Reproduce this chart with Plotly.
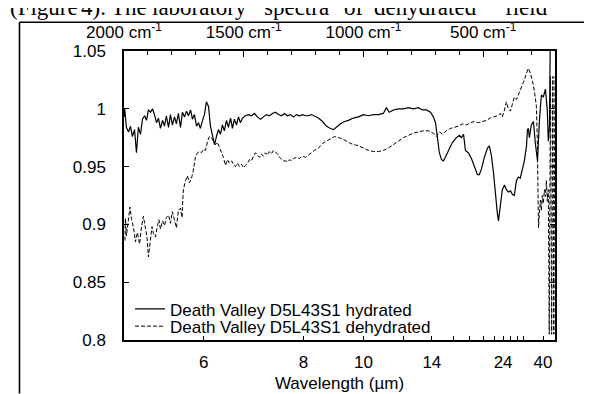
import plotly.graph_objects as go

# ---------------- data ----------------
# x values are wavenumbers in cm^-1 (the axis is linear in wavenumber,
# labelled in wavelength on the bottom)
hyd_wn = [2000, 1997, 1990, 1981, 1973, 1965, 1956, 1948, 1940, 1931, 1923, 1914, 1906, 1898,
          1889, 1881, 1873, 1864, 1856, 1848, 1839, 1831, 1823, 1814, 1806, 1798, 1789, 1781,
          1773, 1764, 1756, 1747, 1739, 1731, 1722, 1714, 1706, 1697, 1689, 1681, 1672, 1664,
          1656, 1647, 1639, 1631, 1622, 1614, 1606, 1597, 1589, 1581, 1572, 1564, 1555, 1547,
          1539, 1530, 1522, 1514, 1505, 1493, 1480, 1468, 1455, 1443, 1430, 1418, 1405, 1393,
          1380, 1367, 1355, 1342, 1330, 1317, 1305, 1292, 1280, 1267, 1255, 1242, 1230, 1217,
          1205, 1188, 1171, 1155, 1138, 1125, 1113, 1096, 1079, 1063, 1042, 1021, 1000, 979,
          958, 937, 917, 904, 892, 875, 854, 833, 812, 791, 770, 754, 737, 720, 708, 699, 691,
          683, 674, 666, 658, 645, 628, 612, 599, 591, 582, 574, 562, 549, 537, 524, 516, 507,
          495, 482, 474, 466, 457, 449, 441, 436, 428, 420, 411, 403, 395, 386, 378, 370, 361,
          353, 345, 336, 328, 319, 315, 311, 307, 299, 290, 282, 273, 265, 257, 249, 240, 232,
          228, 223, 219]
hyd_val = [0.993, 1.000, 0.984, 0.980, 0.985, 0.976, 0.982, 0.962, 0.984, 0.978, 0.991, 0.994,
           0.990, 0.999, 0.997, 1.000, 0.995, 0.988, 0.992, 0.983, 0.990, 0.985, 0.994, 0.984,
           0.995, 0.986, 0.993, 0.987, 0.996, 0.984, 0.997, 0.993, 0.998, 0.994, 0.999, 0.991,
           0.995, 0.985, 0.988, 0.983, 0.990, 0.995, 1.006, 1.002, 0.985, 0.978, 0.969, 0.976,
           0.982, 0.978, 0.986, 0.981, 0.990, 0.984, 0.992, 0.983, 0.991, 0.986, 0.993, 0.988,
           0.992, 0.994, 0.995, 0.994, 0.996, 0.993, 0.991, 0.993, 0.995, 0.994, 0.996, 0.997,
           0.995, 0.994, 0.996, 0.994, 0.995, 0.993, 0.995, 0.994, 0.995, 0.994, 0.994, 0.995,
           0.994, 0.992, 0.989, 0.985, 0.983, 0.982, 0.984, 0.987, 0.989, 0.990, 0.992, 0.993,
           0.995, 0.994, 0.995, 0.995, 0.996, 1.001, 0.997, 0.999, 1.000, 1.000, 1.001, 1.000,
           1.001, 0.999, 0.999, 0.997, 0.993, 0.988, 0.975, 0.962, 0.956, 0.955, 0.958, 0.964,
           0.971, 0.975, 0.977, 0.975, 0.978, 0.964, 0.962, 0.957, 0.950, 0.943, 0.943, 0.948,
           0.958, 0.966, 0.968, 0.960, 0.945, 0.925, 0.910, 0.903, 0.915, 0.930, 0.934, 0.930,
           0.928, 0.929, 0.926, 0.925, 0.938, 0.941, 0.940, 0.948, 0.955, 0.968, 0.982, 0.983,
           0.975, 0.986, 0.989, 0.970, 0.955, 0.990, 1.012, 1.010, 1.017, 0.998, 0.972, 0.985,
           1.080]

dehyd_wn = [1996, 1994, 1990, 1981, 1975, 1969, 1960, 1952, 1944, 1935, 1927, 1919, 1910, 1904,
            1898, 1889, 1883, 1877, 1869, 1860, 1854, 1848, 1839, 1831, 1823, 1814, 1806, 1798,
            1789, 1781, 1773, 1764, 1758, 1752, 1743, 1735, 1727, 1718, 1710, 1702, 1693, 1685,
            1677, 1668, 1660, 1651, 1643, 1635, 1626, 1618, 1610, 1601, 1593, 1585, 1576, 1568,
            1560, 1551, 1543, 1535, 1526, 1518, 1509, 1501, 1493, 1484, 1476, 1468, 1459, 1451,
            1443, 1434, 1426, 1418, 1409, 1401, 1393, 1384, 1376, 1367, 1359, 1351, 1342, 1334,
            1326, 1317, 1309, 1301, 1292, 1280, 1267, 1255, 1242, 1230, 1217, 1205, 1188, 1171,
            1155, 1138, 1121, 1104, 1088, 1071, 1054, 1038, 1021, 1000, 979, 958, 937, 917, 896,
            875, 854, 833, 812, 791, 770, 750, 729, 708, 695, 683, 670, 654, 637, 620, 603, 587,
            570, 553, 537, 520, 503, 486, 470, 453, 441, 428, 420, 411, 403, 395, 386, 378, 370,
            361, 353, 345, 336, 328, 319, 311, 303, 294, 286, 278, 274, 269, 265, 261, 257, 253,
            249, 244, 240, 236, 232, 228, 224, 219, 214, 209, 205, 200]
dehyd_val = [0.886, 0.905, 0.890, 0.903, 0.915, 0.905, 0.897, 0.885, 0.893, 0.883, 0.898, 0.907,
             0.895, 0.889, 0.872, 0.887, 0.898, 0.892, 0.889, 0.899, 0.904, 0.896, 0.903, 0.899,
             0.906, 0.908, 0.901, 0.911, 0.904, 0.897, 0.912, 0.914, 0.906, 0.930, 0.938, 0.942,
             0.936, 0.940, 0.947, 0.958, 0.962, 0.963, 0.962, 0.965, 0.964, 0.972, 0.976, 0.975,
             0.972, 0.969, 0.971, 0.966, 0.963, 0.958, 0.951, 0.956, 0.953, 0.955, 0.952, 0.950,
             0.953, 0.950, 0.952, 0.949, 0.951, 0.953, 0.956, 0.955, 0.959, 0.962, 0.960, 0.958,
             0.961, 0.959, 0.962, 0.960, 0.963, 0.961, 0.964, 0.962, 0.961, 0.958, 0.956, 0.955,
             0.955, 0.954, 0.956, 0.955, 0.957, 0.958, 0.957, 0.959, 0.958, 0.960, 0.962, 0.964,
             0.966, 0.970, 0.972, 0.974, 0.976, 0.975, 0.974, 0.972, 0.970, 0.969, 0.968, 0.966,
             0.964, 0.963, 0.963, 0.964, 0.966, 0.969, 0.972, 0.975, 0.977, 0.979, 0.980, 0.981,
             0.981, 0.979, 0.976, 0.980, 0.978, 0.981, 0.983, 0.984, 0.985, 0.987, 0.986, 0.988,
             0.989, 0.988, 0.989, 0.990, 0.992, 0.993, 0.994, 0.996, 0.993, 0.999, 1.006, 1.000,
             0.998, 1.004, 1.010, 1.008, 1.012, 1.015, 1.020, 1.025, 1.031, 1.035, 1.031, 1.024,
             1.015, 1.003, 0.975, 0.897, 0.910, 0.921, 0.912, 0.925, 0.918, 0.930, 0.924, 0.938,
             0.920, 0.930, 0.805, 1.028, 0.805, 1.028, 0.805, 1.028]

series_names = ["Death Valley D5L43S1 hydrated", "Death Valley D5L43S1 dehydrated"]

# bottom axis: wavelength ticks (µm)
wl_ticks_um = [6, 8, 10, 12, 14, 16, 18, 20, 22, 24, 26, 28, 30, 40]
wl_tick_labels = ["6", "8", "10", "", "14", "", "", "", "", "24", "", "", "", "40"]
# top axis: wavenumber ticks
wn_major = [2000, 1500, 1000, 500]
wn_labels = ["2000 cm<sup>-1</sup>", "1500 cm<sup>-1</sup>", "1000 cm<sup>-1</sup>", "500 cm<sup>-1</sup>"]
y_ticks = [0.8, 0.85, 0.9, 0.95, 1.0, 1.05]
y_tick_labels = ["0.8", "0.85", "0.9", "0.95", "1", "1.05"]

caption_words = ["(Figure", "4).", "The", "laboratory", "spectra", "of", "dehydrated", "field"]
caption_x_px = [0, 71, 101, 142, 254, 334, 364, 495]

# ---------------- figure ----------------
FONT = "Liberation Sans, Arial, Helvetica, sans-serif"
W, H = 592, 394
ML, MR, MT, MB = 116, 45, 42, 50
PW, PH = W - ML - MR, H - MT - MB

def px2paper_x(px):
    return (px - ML) / PW

def px2paper_y(py):
    return (H - MB - py) / PH

fig = go.Figure()
fig.add_trace(go.Scatter(x=hyd_wn, y=hyd_val, mode="lines", name=series_names[0],
                         line=dict(color="black", width=1.2), legend="legend"))
fig.add_trace(go.Scatter(x=dehyd_wn, y=dehyd_val, mode="lines", name=series_names[1],
                         line=dict(color="black", width=1.0, dash="4px,2px"), legend="legend2"))
fig.add_trace(go.Scatter(x=[], y=[], xaxis="x2", yaxis="y", showlegend=False, hoverinfo="skip"))

axis_common = dict(showgrid=False, zeroline=False, linecolor="black", linewidth=1.5,
                   showline=True, ticks="inside", tickcolor="black",
                   tickfont=dict(family=FONT, size=17, color="black"))

legend_common = dict(xanchor="left", yanchor="middle", bgcolor="rgba(0,0,0,0)",
                     font=dict(family=FONT, size=17, color="black"), itemwidth=30)

fig.update_layout(
    width=W, height=H,
    margin=dict(l=ML, r=MR, t=MT, b=MB),
    paper_bgcolor="white", plot_bgcolor="white",
    font=dict(family=FONT, size=17, color="black"),
    xaxis=dict(range=[2000, 200], tickmode="array",
               tickvals=[10000.0 / w for w in wl_ticks_um], ticktext=wl_tick_labels,
               ticklen=4, ticklabelstandoff=6, mirror=False,
               title=dict(text="Wavelength (µm)", font=dict(family=FONT, size=17), standoff=6),
               **axis_common),
    xaxis2=dict(range=[2000, 200], overlaying="x", side="top", anchor="y",
                tickmode="array", tickvals=wn_major, ticktext=wn_labels, ticklen=6,
                ticklabelstandoff=4,
                minor=dict(tickmode="linear", tick0=0, dtick=100, ticks="inside", ticklen=4,
                           tickcolor="black"),
                **axis_common),
    yaxis=dict(range=[0.8, 1.05], tickmode="array", tickvals=y_ticks, ticktext=y_tick_labels,
               ticklen=5, ticklabelstandoff=13, mirror="ticks", **axis_common),
    legend=dict(x=px2paper_x(122), y=px2paper_y(312), **legend_common),
    legend2=dict(x=px2paper_x(122), y=px2paper_y(330), **legend_common),
    showlegend=True,
)

# outer page frame (left and top rules of the figure box)
fig.add_shape(type="line", xref="paper", yref="paper",
              x0=px2paper_x(11.5), x1=px2paper_x(11.5), y0=px2paper_y(12), y1=px2paper_y(400),
              line=dict(color="black", width=1.6))
fig.add_shape(type="line", xref="paper", yref="paper",
              x0=px2paper_x(11.5), x1=px2paper_x(600), y0=px2paper_y(12), y1=px2paper_y(12),
              line=dict(color="black", width=1.6))

# the cut-off caption line above the figure
for word, xp in zip(caption_words, caption_x_px):
    fig.add_annotation(text=word, xref="paper", yref="paper",
                       x=px2paper_x(xp), y=px2paper_y(12), xanchor="left", yanchor="bottom",
                       showarrow=False,
                       font=dict(family="Liberation Serif, Times New Roman, serif", size=23,
                                 color="black"))

fig.write_html("out.html")
